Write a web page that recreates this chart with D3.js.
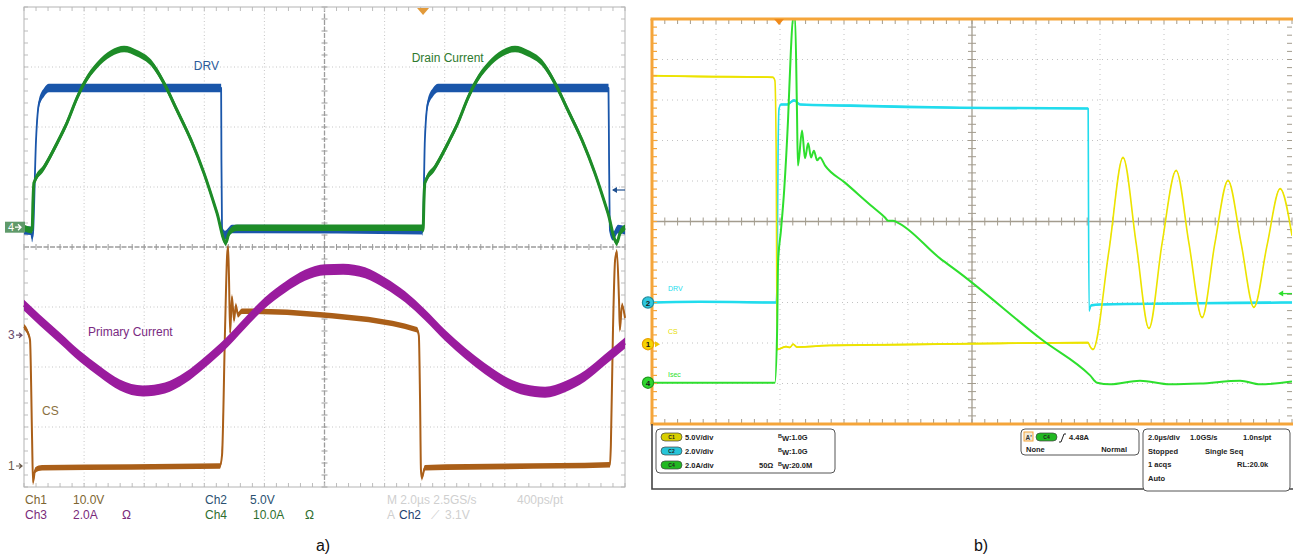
<!DOCTYPE html>
<html><head><meta charset="utf-8">
<script src="https://cdn.jsdelivr.net/npm/d3@7"></script>
<style>body{margin:0;background:#fff;} svg{display:block;font-family:"Liberation Sans",Arial,sans-serif;}</style>
</head><body><svg id="c" width="1293" height="559"></svg>
<script>
// ---------- DATA (time in µs, amplitude in screen divisions) ----------
// Panel a) : 2.0 µs/div, 8 vertical divisions
const drvA = [[0,0.28],[0.23,0.27],[0.27,0.15],[0.30,0.23],[0.40,1.78],[0.50,2.40],[0.67,2.58],[0.83,2.65],[6.56,2.65],[6.57,1.45],[6.59,0.28],[6.69,0.20],[6.92,0.30],[13.24,0.28],[13.27,0.25],[13.34,1.78],[13.44,2.40],[13.61,2.58],[13.78,2.65],[19.45,2.65],[19.47,1.45],[19.50,0.28],[19.60,0.18],[19.77,0.30],[20,0.28]];
const drainA = [[0,0.32],[0.27,0.28],[0.30,0.78],[0.33,1.07],[0.67,1.33],[1.10,1.73],[1.43,2.07],[1.76,2.48],[2.00,2.73],[2.43,3.03],[2.90,3.23],[3.33,3.30],[3.76,3.23],[4.23,3.07],[4.66,2.73],[5.09,2.28],[5.56,1.78],[5.99,1.23],[6.42,0.57],[6.72,0.07],[6.82,0.23],[7.09,0.32],[13.25,0.32],[13.28,0.28],[13.31,0.78],[13.34,1.07],[13.68,1.33],[14.11,1.73],[14.44,2.07],[14.77,2.48],[15.01,2.73],[15.44,3.03],[15.91,3.23],[16.34,3.30],[16.77,3.23],[17.24,3.07],[17.67,2.73],[18.10,2.28],[18.57,1.78],[19.00,1.23],[19.43,0.57],[19.73,0.07],[19.83,0.23],[20,0.32]];
const primaryA = [[0,-0.97],[0.53,-1.22],[1.20,-1.52],[1.86,-1.82],[2.53,-2.08],[3.19,-2.30],[3.96,-2.40],[4.69,-2.35],[5.36,-2.18],[6.02,-1.92],[6.69,-1.62],[7.35,-1.27],[8.02,-0.93],[8.69,-0.67],[9.35,-0.47],[10.02,-0.38],[10.62,-0.37],[11.35,-0.43],[12.01,-0.60],[12.68,-0.83],[13.34,-1.13],[14.01,-1.47],[14.68,-1.77],[15.34,-2.03],[16.01,-2.25],[16.67,-2.38],[17.34,-2.42],[18.00,-2.33],[18.67,-2.15],[19.33,-1.88],[20,-1.60]];
const csA = [[0,-1.33],[0.13,-1.43],[0.20,-1.55],[0.27,-3.22],[0.30,-3.92],[0.37,-3.72],[0.60,-3.68],[6.52,-3.65],[6.59,-3.47],[6.69,-1.38],[6.76,-0.13],[6.79,0.00],[6.82,-0.47],[6.86,-1.43],[6.92,-0.83],[6.99,-1.22],[7.05,-0.97],[7.12,-1.13],[7.25,-1.07],[9.85,-1.13],[13.08,-1.38],[13.14,-1.48],[13.18,-2.55],[13.21,-3.72],[13.24,-3.85],[13.34,-3.68],[19.50,-3.63],[19.53,-3.30],[19.60,-1.38],[19.67,-0.22],[19.73,-0.08],[19.80,-0.88],[19.83,-1.38],[19.90,-0.97],[20,-1.18]];
// Panel b) : 2.0 µs/div, 10 vertical divisions
const csB = [[0,3.60],[1.50,3.58],[3.78,3.56],[3.84,3.48],[3.88,1.75],[3.91,-3.16],[4.00,-3.14],[4.19,-3.09],[4.31,-3.11],[4.41,-3.03],[4.53,-3.10],[5.56,-3.06],[7.75,-3.04],[10.88,-3.01],[13.63,-2.99],[13.69,-3.09],[13.78,-3.16],[14.28,-0.72],[14.72,1.58],[15.13,-0.54],[15.53,-2.64],[15.94,-0.54],[16.38,1.26],[16.78,-0.54],[17.19,-2.37],[17.59,-0.54],[18.00,1.01],[18.41,-0.54],[18.81,-2.12],[19.22,-0.59],[19.63,0.81],[20,-0.35]];
const drvB = [[0,-2.00],[1.50,-1.98],[3.88,-2.00],[3.91,-1.46],[3.94,1.75],[3.97,2.79],[4.03,2.89],[4.22,2.89],[4.44,2.99],[4.63,2.89],[6.19,2.86],[9.63,2.81],[13.63,2.79],[13.64,0.52],[13.66,-2.20],[13.72,-2.07],[14.00,-2.05],[17.13,-2.02],[20,-2.00]];
const isecB = [[0,-3.98],[3.84,-3.98],[3.91,-2.69],[3.94,-1.01],[4.03,-0.22],[4.13,0.77],[4.25,2.49],[4.34,4.22],[4.41,5.05],[4.47,5.05],[4.53,2.74],[4.56,1.38],[4.69,2.25],[4.78,1.56],[4.88,1.93],[4.97,1.58],[5.06,1.75],[5.16,1.51],[5.25,1.58],[5.41,1.38],[6.03,0.96],[6.91,0.35],[7.28,0.10],[7.38,0.02],[7.53,0.02],[7.66,-0.02],[9.00,-0.91],[9.63,-1.28],[12.22,-2.94],[13.69,-3.80],[13.91,-3.98],[14.31,-4.02],[15.25,-3.93],[16.19,-4.02],[17.13,-4.00],[18.38,-3.93],[19.00,-4.02],[20,-3.95]];
// text content
const labelsA = [{t:"DRV",x:5.65,y:2.95,c:"#2a5a9a"},{t:"Drain Current",x:12.9,y:3.08,c:"#2e7a2e"},{t:"Primary Current",x:2.13,y:-1.48,c:"#7a2a82"},{t:"CS",x:0.6,y:-2.8,c:"#8a7040"}];
const readoutA1 = [["Ch1",25,"#7d6530"],["10.0V",73,"#7d6530"],["Ch2",205,"#2a5070"],["5.0V",250,"#2a5070"],["M 2.0µs 2.5GS/s",387,"#cfcfcf"],["400ps/pt",517,"#cfcfcf"]];
const readoutA2 = [["Ch3",25,"#7a2a7a"],["2.0A",73,"#7a2a7a"],["Ω",122,"#7a2a7a"],["Ch4",205,"#2e6e2e"],["10.0A",253,"#2e6e2e"],["Ω",305,"#2e6e2e"],["A",387,"#cfcfcf"],["Ch2",399,"#1e3e6e"],["⟋",431,"#cfcfcf"],["3.1V",445,"#cfcfcf"]];
const chanRows = [["C1","#d8cf00","5.0V/div","","1.0G"],["C2","#27c5d8","2.0V/div","","1.0G"],["C4","#22b822","2.0A/div","50Ω","20.0M"]];
const horizRows = [[["2.0µs/div",1148],["1.0GS/s",1190],["1.0ns/pt",1243]],[["Stopped",1148],["Single Seq",1205]],[["1 acqs",1148],["RL:20.0k",1237]],[["Auto",1148]]];

// ---------- SCALES ----------
const svg = d3.select("#c");
const xA = d3.scaleLinear().domain([0,20]).range([24,625]);
const yA = d3.scaleLinear().domain([-4,4]).range([487,7]);
const xB = d3.scaleLinear().domain([0,20]).range([652,1292]);
const yB = d3.scaleLinear().domain([-5,5]).range([424,19]);

function grid(g, x, y, yd, dotCol, dash, centerCol, centerDash, tickLen, edgeCol){
  const xs = d3.range(0,20.01,2), ys = d3.range(-yd,yd+0.01,1);
  g.selectAll(null).data(xs.filter(d=>d>0&&d<20&&d!==10)).join("line")
   .attr("x1",x).attr("x2",x).attr("y1",y(yd)).attr("y2",y(-yd))
   .attr("stroke",dotCol).attr("stroke-dasharray",dash);
  g.selectAll(null).data(ys.filter(d=>d>-yd&&d<yd&&d!==0)).join("line")
   .attr("y1",y).attr("y2",y).attr("x1",x(0)).attr("x2",x(20))
   .attr("stroke",dotCol).attr("stroke-dasharray",dash);
  g.append("line").attr("x1",x(10)).attr("x2",x(10)).attr("y1",y(yd)).attr("y2",y(-yd)).attr("stroke",centerCol).attr("stroke-width",1.3).attr("stroke-dasharray",centerDash);
  g.append("line").attr("y1",y(0)).attr("y2",y(0)).attr("x1",x(0)).attr("x2",x(20)).attr("stroke",centerCol).attr("stroke-width",1.3).attr("stroke-dasharray",centerDash);
  const mx = d3.range(0,20.01,0.4), my = d3.range(-yd,yd+0.01,0.2);
  g.selectAll(null).data(mx).join("line").attr("x1",x).attr("x2",x).attr("y1",y(0)-tickLen).attr("y2",y(0)+tickLen).attr("stroke",centerCol);
  g.selectAll(null).data(my).join("line").attr("y1",y).attr("y2",y).attr("x1",x(10)-tickLen).attr("x2",x(10)+tickLen).attr("stroke",centerCol);
  g.selectAll(null).data(mx).join("line").attr("x1",x).attr("x2",x).attr("y1",y(yd)).attr("y2",y(yd)+tickLen+1).attr("stroke",edgeCol);
  g.selectAll(null).data(mx).join("line").attr("x1",x).attr("x2",x).attr("y1",y(-yd)).attr("y2",y(-yd)-tickLen-1).attr("stroke",edgeCol);
  g.selectAll(null).data(my).join("line").attr("y1",y).attr("y2",y).attr("x1",x(20)).attr("x2",x(20)-tickLen-1).attr("stroke",edgeCol);
  return {mx,my};
}

function trace(g, data, x, y, color, lw, band){
  const curve = d3.curveMonotoneX;
  if(band>0){
    g.append("path").datum(data)
     .attr("d", d3.area().x(d=>x(d[0])).y0(d=>y(d[1])-band).y1(d=>y(d[1])+band).curve(curve))
     .attr("fill",color);
  }
  g.append("path").datum(data)
   .attr("d", d3.line().x(d=>x(d[0])).y(d=>y(d[1])).curve(curve))
   .attr("fill","none").attr("stroke",color).attr("stroke-width",lw).attr("stroke-linejoin","round");
}

// ---------- PANEL A ----------
const gA = svg.append("g");
const tA = grid(gA, xA, yA, 4, "#c6c6c6", "1,2.5", "#9c9c9c", "5,1.5", 3, "#bdbdbd");
gA.selectAll(null).data(tA.my).join("line").attr("y1",yA).attr("y2",yA).attr("x1",xA(0)).attr("x2",xA(0)+4).attr("stroke","#bdbdbd");
gA.append("rect").attr("x",xA(0)).attr("y",yA(4)).attr("width",xA(20)-xA(0)).attr("height",yA(-4)-yA(4))
  .attr("fill","none").attr("stroke","#b4b4b4");

trace(gA, csA, xA, yA, "#aa5f19", 2, 2.8);
trace(gA, primaryA, xA, yA, "#9a1c9e", 3, 5.5);
trace(gA, drvA, xA, yA, "#1a56aa", 1.8, 4.2);
trace(gA, drainA, xA, yA, "#1e8c28", 3, 3.2);

labelsA.forEach(l=> gA.append("text").attr("x",xA(l.x)).attr("y",yA(l.y)).attr("fill",l.c).attr("font-size",12).text(l.t));

// trigger position marker on top
gA.append("path").attr("d",`M${xA(13.28)-6},${yA(4)+1} h12 l-6,7 z`).attr("fill","#e29a3a");
// right-edge trigger level arrow
const ya2 = yA(0.95);
gA.append("line").attr("x1",xA(19.6)).attr("x2",xA(20)).attr("y1",ya2).attr("y2",ya2).attr("stroke","#1f4f8f").attr("stroke-width",1.2);
gA.append("path").attr("d",`M${xA(19.6)-1},${ya2} l5,-3 v6 z`).attr("fill","#1f4f8f");
// channel ground markers (left)
gA.append("rect").attr("x",5).attr("y",yA(0.33)-5.5).attr("width",20).attr("height",11).attr("fill","#5f9a6a");
gA.append("text").attr("x",8).attr("y",yA(0.33)+4).attr("fill","#fff").attr("font-size",11).text("4");
gA.append("path").attr("d",`M15,${yA(0.33)} h6 m-3,-3 l3,3 l-3,3`).attr("stroke","#fff").attr("fill","none").attr("stroke-width",1.3);
[["3",-1.47,"#6a4a6a"],["1",-3.65,"#6a5a4a"]].forEach(m=>{
  gA.append("text").attr("x",8).attr("y",yA(m[1])+4).attr("fill",m[2]).attr("font-size",12).text(m[0]);
  gA.append("path").attr("d",`M16,${yA(m[1])} h6 m-3,-2.5 l3,2.5 l-3,2.5`).attr("stroke",m[2]).attr("fill","none").attr("stroke-width",1.2);
});
readoutA1.forEach(r=> gA.append("text").attr("x",r[1]).attr("y",504).attr("fill",r[2]).attr("font-size",12).text(r[0]));
readoutA2.forEach(r=> gA.append("text").attr("x",r[1]).attr("y",519).attr("fill",r[2]).attr("font-size",12).text(r[0]));

// ---------- PANEL B ----------
const gB = svg.append("g");
const tB = grid(gB, xB, yB, 5, "#c2c2c2", "1,4", "#a39c8e", null, 4, "#a39c8e");
svg.append("defs").append("clipPath").attr("id","clipB").append("rect")
  .attr("x",xB(0)).attr("y",yB(5)).attr("width",xB(20)-xB(0)).attr("height",yB(-5)-yB(5));
const gT = gB.append("g").attr("clip-path","url(#clipB)");
trace(gT, drvB, xB, yB, "#22dced", 1.6, 1.3);
trace(gT, csB, xB, yB, "#ece300", 1.6, 0.9);
trace(gT, isecB, xB, yB, "#2edf2e", 2, 0);

const orange = "#f5a53a";
gB.append("line").attr("x1",xB(0)-1.5).attr("x2",1293).attr("y1",yB(5)).attr("y2",yB(5)).attr("stroke",orange).attr("stroke-width",3);
gB.append("line").attr("x1",xB(0)).attr("x2",xB(0)).attr("y1",yB(5)).attr("y2",yB(-5)).attr("stroke",orange).attr("stroke-width",3);
gB.append("line").attr("x1",xB(0)-1.5).attr("x2",1293).attr("y1",yB(-5)).attr("y2",yB(-5)).attr("stroke",orange).attr("stroke-width",3);
gB.selectAll(null).data(tB.my).join("line").attr("y1",yB).attr("y2",yB).attr("x1",xB(0)).attr("x2",xB(0)+5).attr("stroke",orange).attr("stroke-width",1.2);
gB.append("path").attr("d",`M${xB(3.97)-5},${yB(5)} h10 l-5,6 z`).attr("fill","#f08a1a");
const yb4 = yB(-1.78);
gB.append("line").attr("x1",xB(19.6)).attr("x2",xB(20)).attr("y1",yb4).attr("y2",yb4).attr("stroke","#2edf2e").attr("stroke-width",1.3);
gB.append("path").attr("d",`M${xB(19.6)-1},${yb4} l5,-3 v6 z`).attr("fill","#2edf2e");
[["2",-2.0,"#2ec8e0","#1e8ea0","DRV",-1.63,"#22dced"],["1",-3.03,"#f6d400","#e8a000","CS",-2.70,"#e6dc00"],["4",-3.98,"#2ed62e","#1e9a1e","Isec",-3.76,"#2edf2e"]].forEach(m=>{
  const cy = yB(m[1]);
  gB.append("circle").attr("cx",648).attr("cy",cy).attr("r",5.6).attr("fill",m[2]).attr("stroke",m[3]).attr("stroke-width",1.2);
  gB.append("text").attr("x",648).attr("y",cy+3).attr("text-anchor","middle").attr("font-size",8).attr("font-weight","bold").attr("fill","#1a1a1a").text(m[0]);
  gB.append("text").attr("x",668).attr("y",yB(m[5])+3).attr("font-size",7).attr("fill",m[6]).text(m[4]);
});
gB.append("path").attr("d",`M655,${yB(-3.03)-3} l5,3 l-5,3 z`).attr("fill","#f0c800");

gB.append("path").attr("d","M652,424 V489 H1293").attr("fill","none").attr("stroke","#444").attr("stroke-width",1.6);
gB.append("rect").attr("x",656).attr("y",429).attr("width",179).attr("height",44).attr("rx",4).attr("fill","#fff").attr("stroke","#555").attr("stroke-width",1);
chanRows.forEach((r,i)=>{
  const cy = 437 + i*14;
  gB.append("rect").attr("x",661).attr("y",cy-4).attr("width",21).attr("height",8).attr("rx",4).attr("fill",r[1]).attr("stroke","#444").attr("stroke-width",0.7);
  gB.append("text").attr("x",671.5).attr("y",cy+2).attr("text-anchor","middle").attr("font-size",5).attr("font-weight","bold").attr("fill","#222").text(r[0]);
  gB.append("text").attr("x",685).attr("y",cy+3).attr("font-size",7.5).attr("font-weight","bold").attr("fill","#222").text(r[2]);
  if(r[3]) gB.append("text").attr("x",759).attr("y",cy+3).attr("font-size",7.5).attr("font-weight","bold").attr("fill","#222").text(r[3]);
  const t = gB.append("text").attr("x",778).attr("y",cy+3).attr("font-size",7.5).attr("font-weight","bold").attr("fill","#222");
  t.append("tspan").attr("font-size",5.5).attr("dy",-2).text("B");
  t.append("tspan").attr("dy",3).text("W");
  t.append("tspan").attr("dy",-1).text(":"+r[4]);
});
gB.append("rect").attr("x",1021).attr("y",429).attr("width",118).attr("height",26).attr("rx",4).attr("fill","#fff").attr("stroke","#555");
gB.append("rect").attr("x",1024).attr("y",432).attr("width",9).attr("height",9).attr("fill","#f3ead8").attr("stroke","#f5a53a");
gB.append("text").attr("x",1025.5).attr("y",439.5).attr("font-size",6.5).attr("font-weight","bold").attr("fill","#333").text("A'");
gB.append("rect").attr("x",1036).attr("y",433).attr("width",21).attr("height",8).attr("rx",4).attr("fill","#22b822").attr("stroke","#444").attr("stroke-width",0.7);
gB.append("text").attr("x",1046.5).attr("y",439).attr("text-anchor","middle").attr("font-size",5).attr("font-weight","bold").attr("fill","#222").text("C4");
gB.append("path").attr("d","M1059,442 h2 l3,-8 h2").attr("fill","none").attr("stroke","#222").attr("stroke-width",1);
gB.append("text").attr("x",1069).attr("y",440).attr("font-size",7.5).attr("font-weight","bold").attr("fill","#222").text("4.48A");
gB.append("text").attr("x",1026).attr("y",452).attr("font-size",7.5).attr("font-weight","bold").attr("fill","#222").text("None");
gB.append("text").attr("x",1127).attr("y",452).attr("text-anchor","end").attr("font-size",7.5).attr("font-weight","bold").attr("fill","#222").text("Normal");
gB.append("rect").attr("x",1143).attr("y",429).attr("width",147).attr("height",62).attr("rx",4).attr("fill","#fff").attr("stroke","#555");
horizRows.forEach((row,i)=> row.forEach(c=> gB.append("text").attr("x",c[1]).attr("y",440+i*13.5).attr("font-size",7.5).attr("font-weight","bold").attr("fill","#222").text(c[0])));

svg.append("text").attr("x",323).attr("y",551).attr("text-anchor","middle").attr("font-size",16).attr("fill","#111").text("a)");
svg.append("text").attr("x",981).attr("y",551).attr("text-anchor","middle").attr("font-size",16).attr("fill","#111").text("b)");
</script></body></html>
